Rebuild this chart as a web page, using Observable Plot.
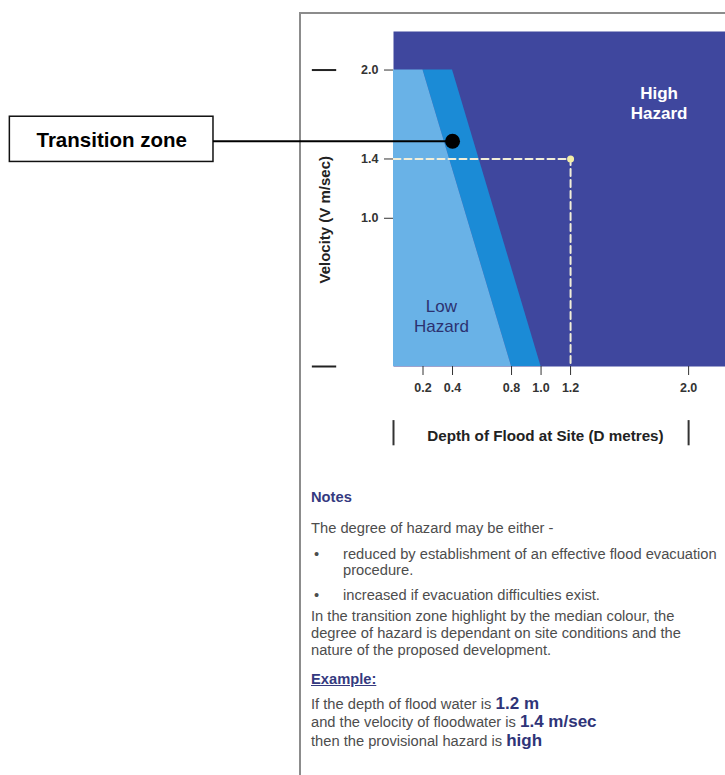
<!DOCTYPE html>
<html>
<head>
<meta charset="utf-8">
<script src="https://cdn.jsdelivr.net/npm/d3@7"></script>
<script src="https://cdn.jsdelivr.net/npm/@observablehq/plot@0.6"></script>
<style>
  html, body { margin: 0; padding: 0; background: #fff; overflow: hidden; }
  #page { position: relative; width: 725px; height: 775px; overflow: hidden; font-family: "Liberation Sans", Arial, sans-serif; }
  #frame { position: absolute; left: 299px; top: 12px; width: 600px; height: 800px; border-left: 2px solid #8c8c8c; border-top: 2px solid #8c8c8c; }
  #chart { position: absolute; left: 0; top: 0; }
  .ln { position: absolute; left: 311px; font-size: 14.7px; color: #4d4d4d; white-space: nowrap; line-height: 17px; }
  .hd { color: #343a80; font-weight: bold; }
  .ex { color: #343a80; font-weight: bold; text-decoration: underline; }
  .v { color: #2f3478; font-weight: bold; font-size: 17px; }
  .bul { position: absolute; left: 3px; }
</style>
</head>
<body>
<div id="page">
  <div id="frame"></div>
  <div id="chart"></div>
  <div id="notes"></div>
</div>
<script>
// ---- data ----
const velocityPoints = [0, 2.0];           // velocity (m/sec) at boundary ends
const lowBoundaryDepth = [0.8, 0.2];       // depth where low hazard ends
const highBoundaryDepth = [1.0, 0.4];      // depth where high hazard begins
const xTicks = [0.2, 0.4, 0.8, 1.0, 1.2, 2.0];
const yTicks = [1.0, 1.4, 2.0];
const exampleDepth = 1.2;
const exampleVelocity = 1.4;
const zoneLabels = ["Low\nHazard", "High\nHazard"];
const zoneLabelDepth = [0.325, 1.80];
const zoneLabelVelocity = [0.345, 1.78];
const annotationLabel = "Transition zone";
const annotationPoint = [0.4, 1.52];
const xTitle = "Depth of Flood at Site (D metres)";
const yTitle = "Velocity (V m/sec)";

const boundary = velocityPoints.map((v, i) => ({v, low: lowBoundaryDepth[i], high: highBoundaryDepth[i]}));
const examplePath = [
  {d: 0, v: exampleVelocity},
  {d: exampleDepth, v: exampleVelocity},
  {d: exampleDepth, v: 0}
];

const DARK = "#3f479e", MID = "#1b8bd6", LIGHT = "#69b2e7";
const sans = "'Liberation Sans', Arial, sans-serif";

const chart = Plot.plot({
  width: 725,
  height: 460,
  marginLeft: 393,
  marginRight: 0,
  marginTop: 31,
  marginBottom: 94,
  style: {background: "transparent", overflow: "visible", fontFamily: sans},
  x: {domain: [0, 2.25]},
  y: {domain: [0, 2.26]},
  marks: [
    Plot.frame({fill: DARK}),
    Plot.areaX(boundary, {y: "v", x1: "low", x2: "high", fill: MID}),
    Plot.areaX(boundary, {y: "v", x1: 0, x2: "low", fill: LIGHT}),
    Plot.line(examplePath, {x: "d", y: "v", stroke: "#f1eed8", strokeWidth: 2, strokeDasharray: "7,4"}),
    Plot.dot([[exampleDepth, exampleVelocity]], {r: 3.5, fill: "#f3eea6", stroke: null}),
    Plot.text([zoneLabels[0]], {x: zoneLabelDepth[0], y: zoneLabelVelocity[0], fill: "#2c3170", fontSize: 17, lineHeight: 1.17, fontWeight: 500}),
    Plot.text([zoneLabels[1]], {x: zoneLabelDepth[1], y: zoneLabelVelocity[1], fill: "#ffffff", fontSize: 17, lineHeight: 1.2, fontWeight: "bold"}),
    Plot.axisX({ticks: xTicks, tickFormat: d3.format(".1f"), tickSize: 9, tickPadding: 8, label: null, fontWeight: "bold", fontSize: 12.5, color: "#333"}),
    Plot.axisY({ticks: yTicks, tickFormat: d3.format(".1f"), tickSize: 9, tickPadding: 6, label: null, fontWeight: "bold", fontSize: 12.5, color: "#333"}),
    // axis titles
    Plot.text([xTitle], {x: 1.03, frameAnchor: "bottom", dy: 74, fontSize: 15.2, fontWeight: "bold", fill: "#222"}),
    Plot.text([yTitle], {y: 0.99, frameAnchor: "left", textAnchor: "middle", dx: -68, rotate: -90, fontSize: 15, fontWeight: "bold", fill: "#222"}),
    // bracket marks
    Plot.ruleY([2.0, 0], {x1: -0.55, x2: -0.385, stroke: "#222", strokeWidth: 2, clip: false}),
    Plot.ruleX([0, 2.0], {y1: -0.365, y2: -0.535, stroke: "#333", strokeWidth: 2, clip: false}),
    // annotation
    Plot.rect([annotationLabel], {x1: -2.6, x2: -1.22, y1: 1.38, y2: 1.685, fill: "#fff", stroke: "#111", strokeWidth: 1.5}),
    Plot.text([annotationLabel], {x: -1.91, y: 1.525, fontSize: 20.5, fontWeight: "bold", fill: "#000"}),
    Plot.ruleY([annotationPoint[1]], {x1: -1.22, x2: annotationPoint[0], stroke: "#000", strokeWidth: 2}),
    Plot.dot([annotationPoint], {r: 7.5, fill: "#000", stroke: null})
  ]
});
document.getElementById("chart").appendChild(chart);

// ---- notes ----
const notesLines = [
  {c: 498, html: '<span class="hd">Notes</span>'},
  {c: 529, html: 'The degree of hazard may be either -'},
  {c: 555, html: '<span class="bul">•</span><span style="margin-left:32px">reduced by establishment of an effective flood evacuation</span>'},
  {c: 571, html: '<span style="margin-left:32px">procedure.</span>'},
  {c: 596, html: '<span class="bul">•</span><span style="margin-left:32px">increased if evacuation difficulties exist.</span>'},
  {c: 617, html: 'In the transition zone highlight by the median colour, the'},
  {c: 634, html: 'degree of hazard is dependant on site conditions and the'},
  {c: 651, html: 'nature of the proposed development.'},
  {c: 680, html: '<span class="ex">Example:</span>'},
  {c: 704, html: 'If the depth of flood water is <span class="v">1.2 m</span>'},
  {c: 722, html: 'and the velocity of floodwater is <span class="v">1.4 m/sec</span>'},
  {c: 741, html: 'then the provisional hazard is <span class="v">high</span>'}
];
const notes = document.getElementById("notes");
notesLines.forEach(l => {
  const d = document.createElement("div");
  d.className = "ln";
  d.style.top = (l.c - 9) + "px";
  d.innerHTML = l.html;
  notes.appendChild(d);
});
</script>
</body>
</html>
